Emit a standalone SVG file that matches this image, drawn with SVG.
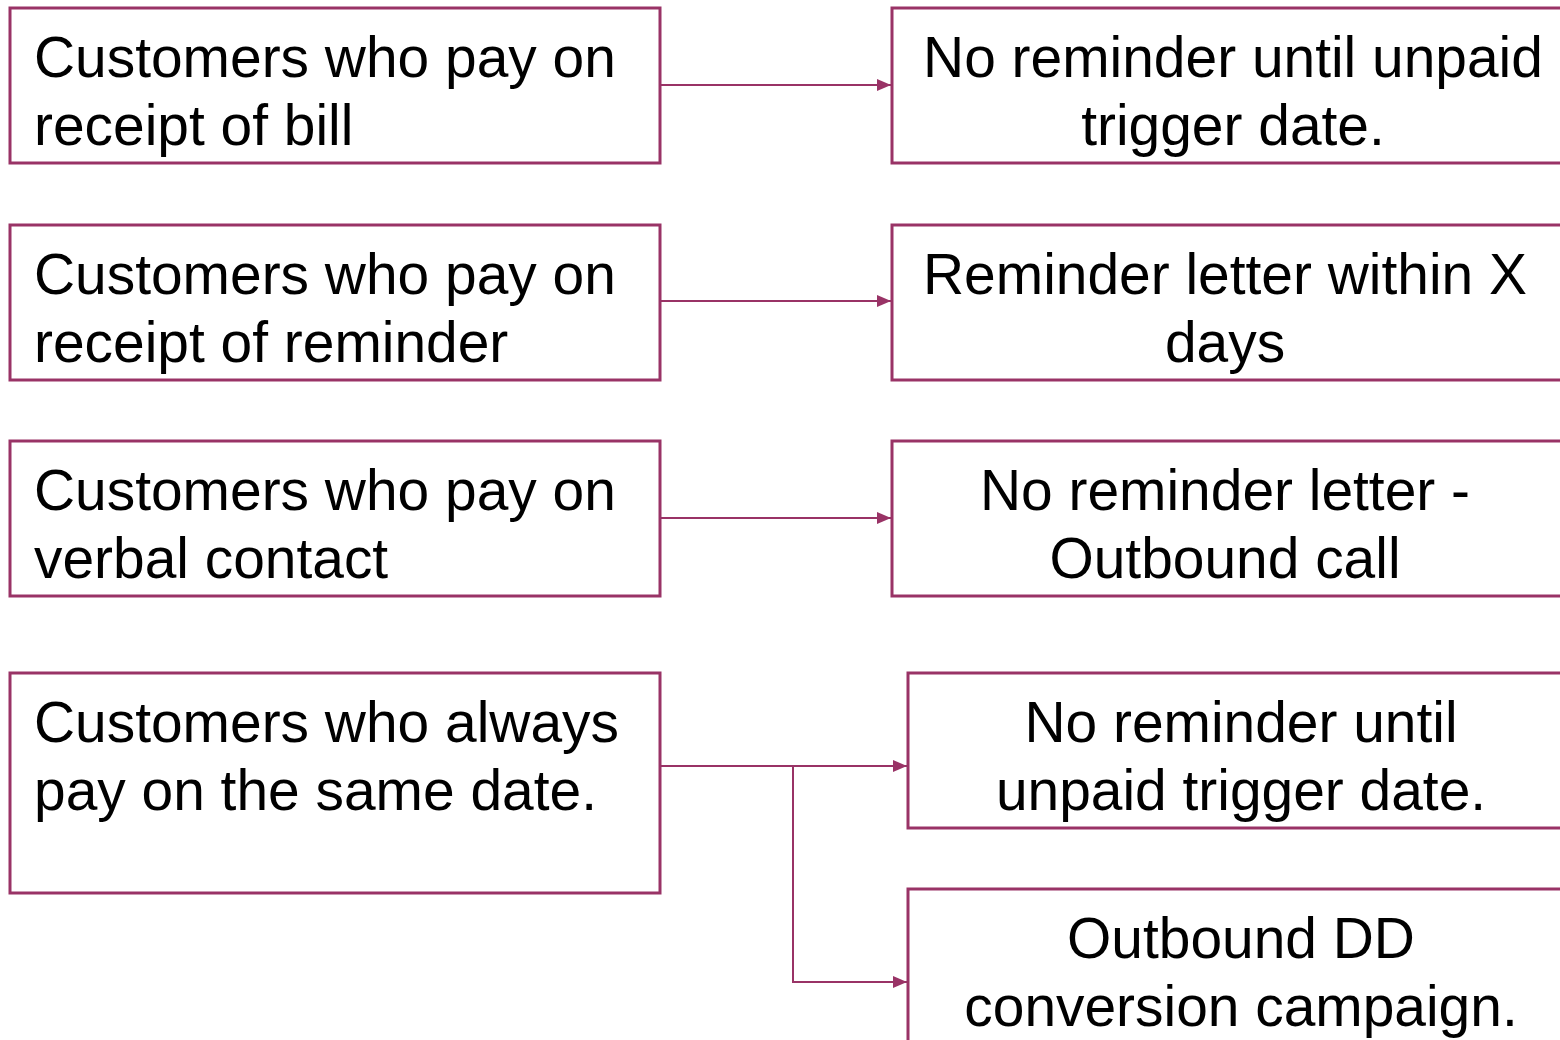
<svg xmlns="http://www.w3.org/2000/svg" width="1560" height="1040" viewBox="0 0 1560 1040">
<style>
.box{fill:#fff;stroke:#993366;stroke-width:3}
.t{font-family:"Liberation Sans",Arial,sans-serif;font-size:56.9px;fill:#000}
.l{text-anchor:start}
.c{text-anchor:middle}
.conn{fill:none;stroke:#993366;stroke-width:2}
</style>
<defs>
<marker id="arr" viewBox="0 0 14 12" refX="14" refY="6" markerWidth="14" markerHeight="12" markerUnits="userSpaceOnUse" orient="auto">
<path d="M0,0 L14,6 L0,12 z" fill="#993366"/>
</marker>
</defs>
<rect width="1560" height="1040" fill="#fff"/>
<g id="connectors">
<path class="conn" d="M660,85 H891" marker-end="url(#arr)"/>
<path class="conn" d="M660,301 H891" marker-end="url(#arr)"/>
<path class="conn" d="M660,518 H891" marker-end="url(#arr)"/>
<path class="conn" d="M660,766 H907" marker-end="url(#arr)"/>
<path class="conn" d="M793,766 V982 H907" marker-end="url(#arr)"/>
</g>
<g id="n1"><rect class="box" x="10" y="8" width="650" height="155"/>
<text class="t l" x="34" y="77">Customers who pay on</text><text class="t l" x="34" y="145">receipt of bill</text></g>
<g id="n2"><rect class="box" x="10" y="225" width="650" height="155"/>
<text class="t l" x="34" y="294">Customers who pay on</text><text class="t l" x="34" y="362">receipt of reminder</text></g>
<g id="n3"><rect class="box" x="10" y="441" width="650" height="155"/>
<text class="t l" x="34" y="510">Customers who pay on</text><text class="t l" x="34" y="578">verbal contact</text></g>
<g id="n4"><rect class="box" x="10" y="673" width="650" height="220"/>
<text class="t l" x="34" y="742">Customers who always</text><text class="t l" x="34" y="810">pay on the same date.</text></g>
<g id="n5"><rect class="box" x="892" y="8" width="682" height="155"/>
<text class="t c" x="1233" y="77">No reminder until unpaid</text><text class="t c" x="1233" y="145">trigger date.</text></g>
<g id="n6"><rect class="box" x="892" y="225" width="682" height="155"/>
<text class="t c" x="1225" y="294">Reminder letter within X</text><text class="t c" x="1225" y="362">days</text></g>
<g id="n7"><rect class="box" x="892" y="441" width="682" height="155"/>
<text class="t c" x="1225" y="510">No reminder letter -</text><text class="t c" x="1225" y="578">Outbound call</text></g>
<g id="n8"><rect class="box" x="908" y="673" width="666" height="155"/>
<text class="t c" x="1241" y="742">No reminder until</text><text class="t c" x="1241" y="810">unpaid trigger date.</text></g>
<g id="n9"><rect class="box" x="908" y="889" width="666" height="170"/>
<text class="t c" x="1241" y="958">Outbound DD</text><text class="t c" x="1241" y="1026">conversion campaign.</text></g>
</svg>
